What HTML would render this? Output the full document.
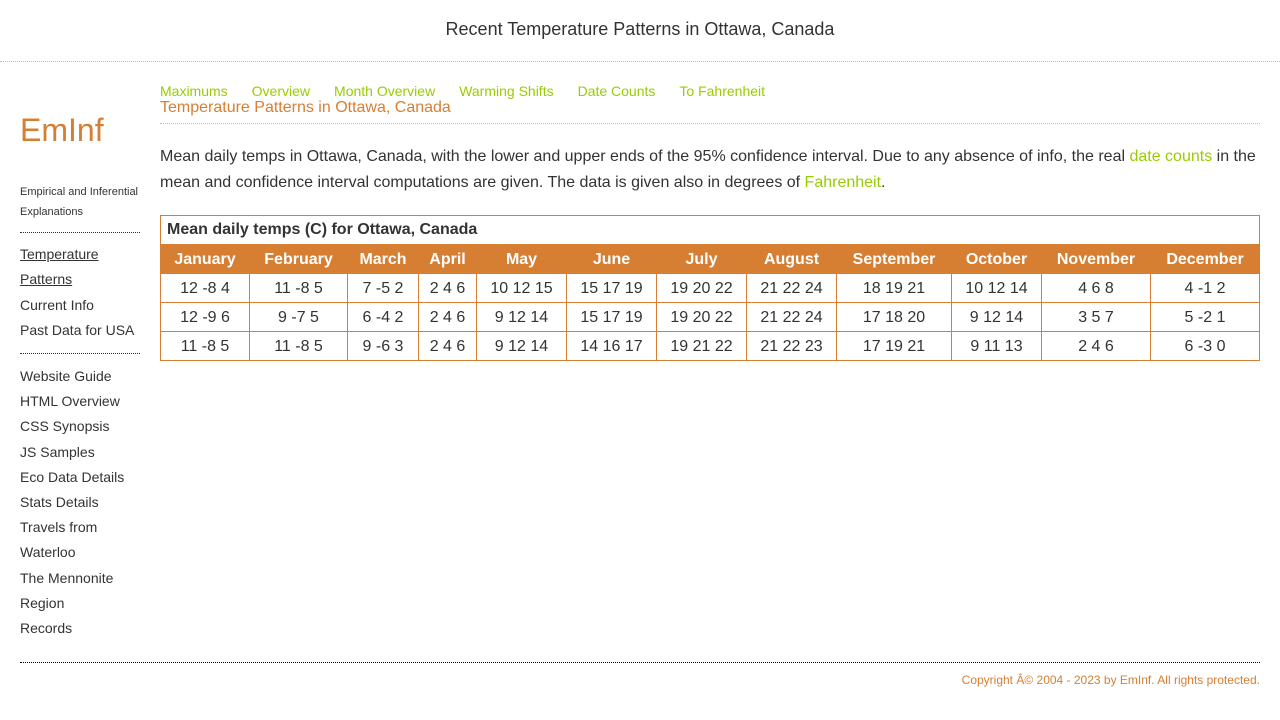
<!DOCTYPE html>
<html><head><meta charset="utf-8">
<style>
*{margin:0;padding:0;box-sizing:border-box}
body{width:1280px;height:720px;background:#fff;font-family:"Liberation Sans",Arial,sans-serif;color:#333;position:relative;overflow:hidden}
.abs{position:absolute}
#title{left:0;top:19px;width:1280px;text-align:center;font-size:18px;color:#333}
#hr-top{left:0;top:61px;width:1280px;border-top:1px dotted #bbb}
#logo{left:20px;top:112px;font-size:32px;color:#d67f33}
#tag{left:20px;top:182px;font-size:11px;line-height:20px;color:#333;width:130px}
.sdots{left:20px;width:120px;border-top:1px dotted #333}
#side1{left:20px;top:242px;font-size:14px;line-height:25.3px}
#side2{left:20px;top:364px;font-size:14px;line-height:25.2px}
#side1 a,#side2 a{color:#333;text-decoration:none;display:block}
#side1 a.u{text-decoration:underline}
#nav{left:160px;top:83px;font-size:14px;white-space:nowrap}
#nav a{color:#99cc00;text-decoration:none;margin-right:24px}
#sub{left:160px;top:99px;font-size:16px;color:#d67f33}
#hr-sub{left:160px;top:123px;width:1100px;border-top:1px dotted #bbb}
#para{left:160px;top:144px;width:1100px;font-size:16px;line-height:26px;color:#333}
#para a{color:#99cc00;text-decoration:none}
#tbl{left:160px;top:215px;border-collapse:collapse;table-layout:fixed;width:1099px}
#tbl td,#tbl th{border:1px solid #d67f33;text-align:center;font-size:16px}
#cap td{text-align:left !important;font-weight:bold;padding-left:6px;height:29px;font-size:16px;border-bottom:none !important}
#tbl th{background:#d67f33;color:#fff;height:29px;border-color:#d67f33;padding-top:1px}
#tbl td.v{height:29px;padding-top:1px}
#hr-foot{left:20px;top:662px;width:1240px;border-top:1px dotted #000}
#copy{right:20px;top:673px;font-size:12px;color:#d67f33}
</style></head><body>
<div class="abs" id="title">Recent Temperature Patterns in Ottawa, Canada</div>
<div class="abs" id="hr-top"></div>
<div class="abs" id="logo">EmInf</div>
<div class="abs" id="tag">Empirical and Inferential Explanations</div>
<div class="abs sdots" style="top:232px"></div>
<div class="abs" id="side1">
<a class="u" href="#">Temperature<br>Patterns</a>
<a href="#">Current Info</a>
<a href="#">Past Data for USA</a>
</div>
<div class="abs sdots" style="top:353px"></div>
<div class="abs" id="side2">
<a href="#">Website Guide</a>
<a href="#">HTML Overview</a>
<a href="#">CSS Synopsis</a>
<a href="#">JS Samples</a>
<a href="#">Eco Data Details</a>
<a href="#">Stats Details</a>
<a href="#">Travels from<br>Waterloo</a>
<a href="#">The Mennonite<br>Region</a>
<a href="#">Records</a>
</div>
<div class="abs" id="nav">
<a href="#">Maximums</a><a href="#">Overview</a><a href="#">Month Overview</a><a href="#">Warming Shifts</a><a href="#">Date Counts</a><a href="#">To Fahrenheit</a>
</div>
<div class="abs" id="sub">Temperature Patterns in Ottawa, Canada</div>
<div class="abs" id="hr-sub"></div>
<div class="abs" id="para">Mean daily temps in Ottawa, Canada, with the lower and upper ends of the 95% confidence interval. Due to any absence of info, the real <a href="#">date counts</a> in the mean and confidence interval computations are given. The data is given also in degrees of <a href="#">Fahrenheit</a>.</div>
<table class="abs" id="tbl"></table>
<div class="abs" id="hr-foot"></div>
<div class="abs" id="copy">Copyright Â© 2004 - 2023 by EmInf. All rights protected.</div>
<script>
const months=["January","February","March","April","May","June","July","August","September","October","November","December"];
const colWidths=[89,98,71,58,90,90,90,90,115,90,109,109];
const row1=["12 -8 4","11 -8 5","7 -5 2","2 4 6","10 12 15","15 17 19","19 20 22","21 22 24","18 19 21","10 12 14","4 6 8","4 -1 2"];
const row2=["12 -9 6","9 -7 5","6 -4 2","2 4 6","9 12 14","15 17 19","19 20 22","21 22 24","17 18 20","9 12 14","3 5 7","5 -2 1"];
const row3=["11 -8 5","11 -8 5","9 -6 3","2 4 6","9 12 14","14 16 17","19 21 22","21 22 23","17 19 21","9 11 13","2 4 6","6 -3 0"];
const rows=[row1,row2,row3];
const t=document.getElementById('tbl');
const cg=document.createElement('colgroup');
colWidths.forEach(w=>{const c=document.createElement('col');c.style.width=w+'px';cg.appendChild(c);});
t.appendChild(cg);
const cap=document.createElement('tr');cap.id='cap';
const ct=document.createElement('td');ct.colSpan=12;ct.textContent='Mean daily temps (C) for Ottawa, Canada';


cap.appendChild(ct);t.appendChild(cap);
const hr=document.createElement('tr');
months.forEach(m=>{const th=document.createElement('th');th.textContent=m;


hr.appendChild(th);});
t.appendChild(hr);
rows.forEach(r=>{const tr=document.createElement('tr');
r.forEach(v=>{const td=document.createElement('td');td.className='v';td.textContent=v;


tr.appendChild(td);});
t.appendChild(tr);});
</script>
</body></html>
